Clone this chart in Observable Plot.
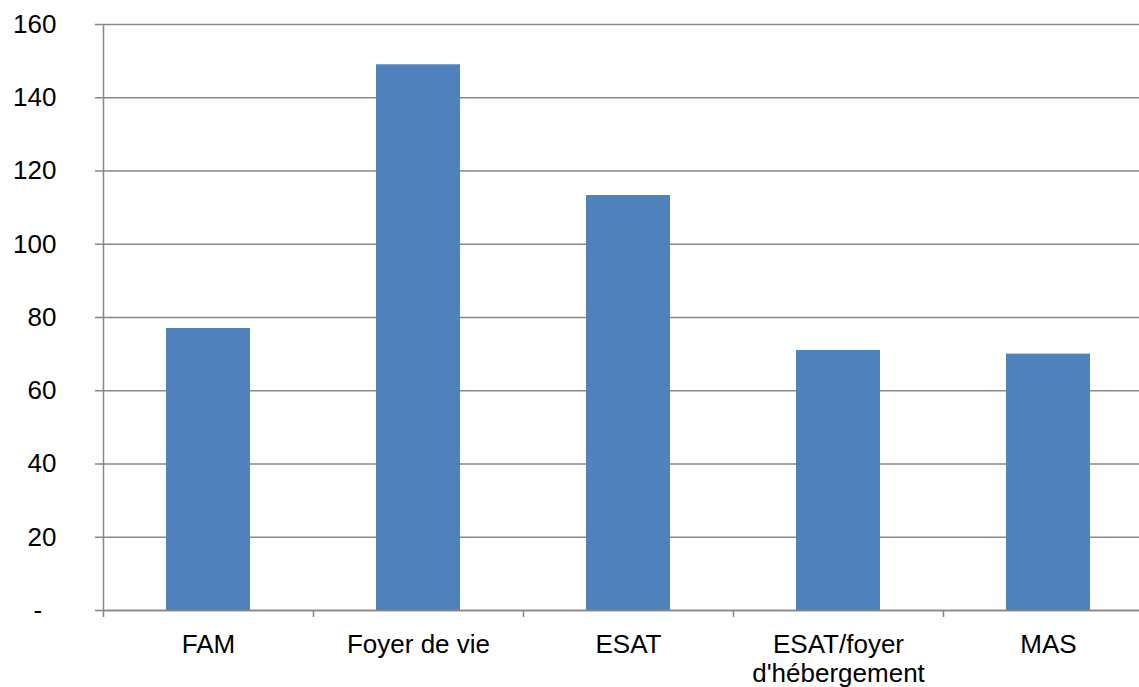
<!DOCTYPE html>
<html><head><meta charset="utf-8">
<script src="https://cdn.jsdelivr.net/npm/d3@7"></script>
<script src="https://cdn.jsdelivr.net/npm/@observablehq/plot@0.6"></script>
<style>body{margin:0;background:#fff}</style>
</head><body><div id="chart"></div>
<script>
const categories = ["FAM", "Foyer de vie", "ESAT", "ESAT/foyer\nd'hébergement", "MAS"];
const values = [77, 149, 113.3, 71, 70];
const yTicks = [0, 20, 40, 60, 80, 100, 120, 140, 160];
const data = categories.map((c, i) => ({category: c, value: values[i], index: i}));
const grey = "#878787";
const chart = Plot.plot({
  width: 1139, height: 687,
  marginLeft: 103, marginRight: 0, marginTop: 24, marginBottom: 77,
  style: {fontFamily: "'Liberation Sans', Arial, sans-serif", fontSize: "26px", color: "#000", background: "#fff"},
  x: {type: "linear", domain: [0, categories.length], range: [103, 1153]},
  y: {domain: [0, 160]},
  marks: [
    Plot.gridY(yTicks, {stroke: grey, strokeOpacity: 1, strokeWidth: 1.5}),
    Plot.rectY(data, {x1: d => d.index + 0.3, x2: d => d.index + 0.7, y: "value", fill: "#4F81BD"}),
    Plot.ruleY([0], {stroke: grey, strokeWidth: 1.5}),
    Plot.ruleX([0], {stroke: grey, strokeWidth: 1.5}),
    Plot.axisX(d3.range(categories.length + 1), {tickSize: 7, tickFormat: () => "", label: null, stroke: grey, strokeWidth: 1.5}),
    Plot.axisY(yTicks, {tickSize: 8, tickPadding: 39, label: null, stroke: grey, strokeWidth: 1.5, fill: "#000", fontSize: 26,
      tickFormat: d => d === 0 ? "-\u2007" : String(d)}),
    Plot.text(data, {x: d => d.index + 0.5, y: 0, text: "category", dy: 23, lineAnchor: "top", lineHeight: 1.08, fontSize: 26, fill: "#000"})
  ]
});
document.getElementById("chart").appendChild(chart);
</script>
</body></html>
